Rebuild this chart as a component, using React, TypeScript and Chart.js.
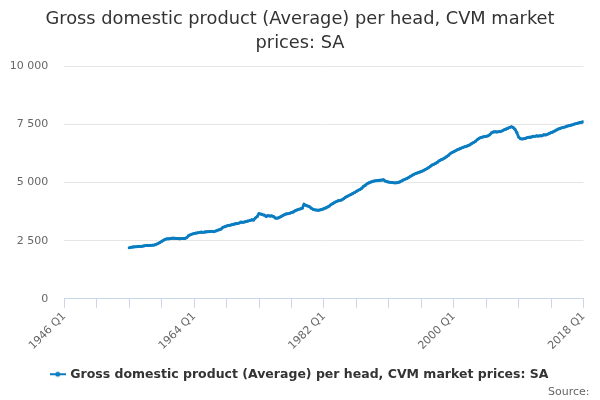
import React, { useEffect, useRef } from "react";
import { Chart, registerables } from "chart.js";

Chart.register(...registerables);

const titleLines = [
  "Gross domestic product (Average) per head, CVM market",
  "prices: SA",
];
const seriesName = "Gross domestic product (Average) per head, CVM market prices: SA";
const sourceText = "Source:\u00a0\u00a0\u00a0";

// x axis: quarters counted from 1946 Q1
const axisStartYear = 1946;
const axisEndYear = 2018;
const tickLabels = ["1946 Q1", "1964 Q1", "1982 Q1", "2000 Q1", "2018 Q1"];
const yTicks = [0, 2500, 5000, 7500, 10000];

// series starts in 1955 Q1, quarterly values
const seriesStartYear = 1955;
const gdpPerHead = [
  // 1955
  2200, 2215, 2230, 2235,
  // 1956
  2245, 2250, 2255, 2260,
  // 1957
  2275, 2290, 2300, 2295,
  // 1958
  2300, 2310, 2320, 2345,
  // 1959
  2380, 2420, 2470, 2520,
  // 1960
  2560, 2580, 2585, 2595,
  // 1961
  2605, 2610, 2600, 2590,
  // 1962
  2585, 2600, 2595, 2600,
  // 1963
  2640, 2720, 2760, 2790,
  // 1964
  2810, 2830, 2840, 2855,
  // 1965
  2870, 2860, 2875, 2885,
  // 1966
  2890, 2900, 2905, 2890,
  // 1967
  2920, 2950, 2975, 3000,
  // 1968
  3080, 3100, 3130, 3160,
  // 1969
  3170, 3190, 3210, 3230,
  // 1970
  3240, 3260, 3300, 3290,
  // 1971
  3310, 3330, 3350, 3370,
  // 1972
  3400, 3390, 3480, 3540,
  // 1973
  3670, 3650, 3620, 3600,
  // 1974
  3540, 3580, 3560, 3570,
  // 1975
  3540, 3480, 3470, 3490,
  // 1976
  3530, 3570, 3620, 3650,
  // 1977
  3660, 3680, 3710, 3740,
  // 1978
  3790, 3820, 3850, 3870,
  // 1979
  3900, 4070, 4020, 3990,
  // 1980
  3960, 3900, 3850, 3830,
  // 1981
  3820, 3810, 3830, 3850,
  // 1982
  3880, 3910, 3950, 3990,
  // 1983
  4060, 4100, 4150, 4190,
  // 1984
  4220, 4230, 4260, 4310,
  // 1985
  4370, 4410, 4450, 4490,
  // 1986
  4530, 4570, 4620, 4670,
  // 1987
  4700, 4760, 4840, 4890,
  // 1988
  4950, 4990, 5020, 5050,
  // 1989
  5070, 5080, 5090, 5100,
  // 1990
  5110, 5120, 5070, 5040,
  // 1991
  5020, 5010, 5000, 4990,
  // 1992
  4990, 5000, 5030, 5070,
  // 1993
  5110, 5140, 5180, 5220,
  // 1994
  5270, 5320, 5360, 5390,
  // 1995
  5420, 5450, 5480, 5510,
  // 1996
  5550, 5590, 5640, 5700,
  // 1997
  5760, 5790, 5830, 5880,
  // 1998
  5940, 5980, 6010, 6060,
  // 1999
  6110, 6170, 6240, 6290,
  // 2000
  6330, 6370, 6410, 6440,
  // 2001
  6480, 6510, 6540, 6560,
  // 2002
  6590, 6630, 6680, 6720,
  // 2003
  6770, 6840, 6900, 6940,
  // 2004
  6960, 6980, 6990, 7010,
  // 2005
  7060, 7140, 7180, 7190,
  // 2006
  7180, 7190, 7200, 7230,
  // 2007
  7270, 7300, 7340, 7370,
  // 2008
  7400, 7370, 7290, 7150,
  // 2009
  6960, 6890, 6880, 6890,
  // 2010
  6910, 6940, 6950, 6960,
  // 2011
  6990, 6990, 7010, 7000,
  // 2012
  7020, 7010, 7060, 7050,
  // 2013
  7080, 7110, 7150, 7180,
  // 2014
  7220, 7260, 7300, 7330,
  // 2015
  7360, 7380, 7400, 7430,
  // 2016
  7450, 7470, 7490, 7520,
  // 2017
  7540, 7560, 7580, 7600,
  // 2018
  7620,
];

const LINE_COLOR = "#0a7dc2";
const FONT = "'DejaVu Sans', sans-serif";

function makeLegendSymbol(): HTMLCanvasElement {
  const c = document.createElement("canvas");
  c.width = 16;
  c.height = 8;
  const ctx = c.getContext("2d")!;
  ctx.strokeStyle = LINE_COLOR;
  ctx.lineWidth = 2;
  ctx.beginPath();
  ctx.moveTo(0, 4);
  ctx.lineTo(16, 4);
  ctx.stroke();
  ctx.fillStyle = LINE_COLOR;
  ctx.beginPath();
  ctx.arc(8, 4, 2.5, 0, Math.PI * 2);
  ctx.fill();
  return c;
}

function formatThousands(v: number): string {
  return String(v).replace(/\B(?=(\d{3})+(?!\d))/g, " ");
}

export default function App() {
  const ref = useRef<HTMLCanvasElement | null>(null);

  useEffect(() => {
    document.body.style.margin = "0";
    const canvas = ref.current;
    if (!canvas) return;
    const offset = (seriesStartYear - axisStartYear) * 4;
    const points = gdpPerHead.map((v, i) => ({ x: offset + i, y: v }));
    const maxQ = (axisEndYear - axisStartYear) * 4;

    const chart = new Chart(canvas, {
      type: "line",
      data: {
        datasets: [
          {
            label: seriesName,
            data: points,
            borderColor: LINE_COLOR,
            backgroundColor: LINE_COLOR,
            borderWidth: 2.8,
            pointRadius: 1.5,
            pointBorderWidth: 0,
            pointHoverRadius: 3,
            tension: 0,
            yAxisID: "y",
          },
        ],
      },
      options: {
        animation: false,
        responsive: false,
        maintainAspectRatio: false,
        layout: { padding: { left: 0, right: 0, top: 0, bottom: 0 } },
        scales: {
          x: {
            type: "linear",
            min: 0,
            max: maxQ,
            afterBuildTicks: (scale: any) => {
              const t = [];
              for (let q = 0; q <= maxQ; q += 18) t.push({ value: q });
              scale.ticks = t;
            },
            afterFit: (scale: any) => {
              scale.height = scale.height + 13.5;
            },
            ticks: {
              autoSkip: false,
              maxRotation: 45,
              minRotation: 45,
              padding: 2,
              color: "#666666",
              font: { family: FONT, size: 11 },
              callback: (v: any) => {
                const n = Number(v);
                return n % 72 === 0 ? tickLabels[n / 72] : "";
              },
            },
            grid: {
              drawOnChartArea: false,
              drawTicks: true,
              tickLength: 9,
              color: "#ccd6eb",
              lineWidth: 1,
            },
            border: { display: true, color: "#ccd6eb", width: 1 },
          },
          y: {
            min: 0,
            max: 10000,
            afterBuildTicks: (scale: any) => {
              scale.ticks = yTicks.map((v) => ({ value: v }));
            },
            afterFit: (scale: any) => {
              scale.width = 64.3;
            },
            ticks: {
              padding: 16,
              color: "#666666",
              font: { family: FONT, size: 11 },
              callback: (v: any) => formatThousands(Number(v)),
            },
            grid: {
              color: "#e6e6e6",
              drawTicks: false,
              lineWidth: 1,
            },
            border: { display: false },
          },
          yRight: {
            position: "right",
            display: true,
            min: 0,
            max: 1,
            afterFit: (scale: any) => {
              scale.width = 16.5;
            },
            ticks: { display: false },
            grid: { display: false, drawTicks: false },
            border: { display: false },
          },
        },
        plugins: {
          tooltip: { enabled: false },
          title: {
            display: true,
            text: titleLines,
            color: "#333333",
            font: { family: FONT, size: 17.8, weight: "normal", lineHeight: 1.33 },
            padding: { top: 8, bottom: 11 },
          },
          subtitle: {
            display: true,
            text: sourceText,
            position: "bottom",
            align: "end",
            color: "#666666",
            font: { family: FONT, size: 11, weight: "normal", lineHeight: 1 },
            padding: { top: -4, bottom: 2.5 },
          },
          legend: {
            display: true,
            position: "bottom",
            labels: {
              usePointStyle: true,
              pointStyle: makeLegendSymbol() as any,
              color: "#333333",
              font: { family: FONT, size: 12.5, weight: "bold" },
              padding: 0,
            },
          },
        },
      },
    });
    return () => chart.destroy();
  }, []);

  return (
    <div style={{ width: 600, height: 400, background: "#ffffff" }}>
      <canvas ref={ref} width={600} height={400} style={{ width: 600, height: 400 }} />
    </div>
  );
}
